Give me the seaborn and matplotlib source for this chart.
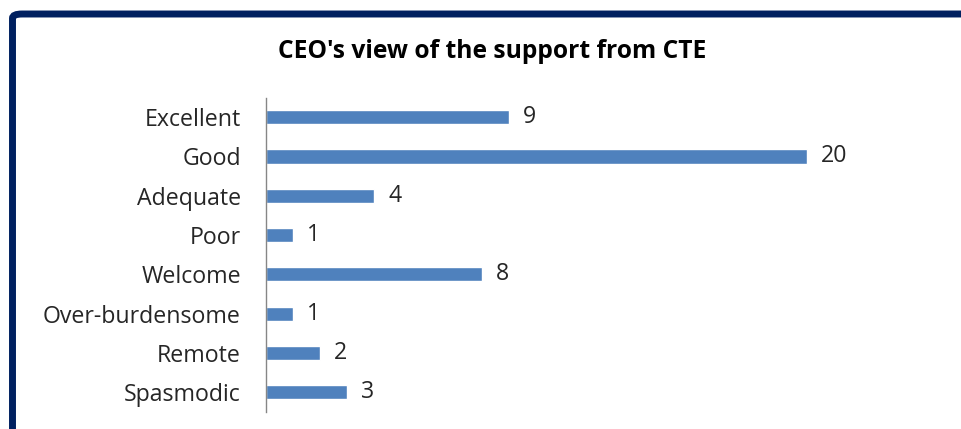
import matplotlib
matplotlib.use("Agg")
import matplotlib.pyplot as plt
from matplotlib.patches import FancyBboxPatch
import seaborn as sns
import pandas as pd

categories = ["Excellent", "Good", "Adequate", "Poor", "Welcome",
              "Over-burdensome", "Remote", "Spasmodic"]
counts = [9, 20, 4, 1, 8, 1, 2, 3]
title = "CEO's view of the support from CTE"

sns.set_theme(style="white")
plt.rcParams["font.family"] = ["Open Sans", "DejaVu Sans"]

W, H = 961, 429
fig = plt.figure(figsize=(W / 100, H / 100), dpi=100)
fig.patch.set_facecolor("white")

# navy frame (top and left edges visible, rounded corner)
frame = FancyBboxPatch((12.5 / W, -0.2), 1.3, 1 - 14 / H + 0.2,
                       boxstyle="round,pad=0,rounding_size=0.01",
                       transform=fig.transFigure, facecolor="none",
                       edgecolor="#002060", linewidth=5.0, clip_on=False)
fig.patches.append(frame)

ax = fig.add_axes([266 / W, 1 - 412 / H, 24 * 27.05 / W, (412 - 97.5) / H])
df = pd.DataFrame({"category": categories, "count": counts})
sns.barplot(data=df, y="category", x="count", orient="h", color="#4F81BD",
            width=0.36, saturation=1, ax=ax)
ax.set_xlim(0, 24)
ax.set_xlabel("")
ax.set_ylabel("")
ax.set_xticks([])
for s in ["top", "right", "bottom"]:
    ax.spines[s].set_visible(False)
ax.spines["left"].set_color("#868686")
ax.spines["left"].set_linewidth(1.0)
ax.tick_params(axis="y", length=0, pad=18, labelsize=16.7, labelcolor="#262626")
ax.set_facecolor("none")

for cont in ax.containers:
    ax.bar_label(cont, labels=[str(v) for v in counts], padding=10,
                 fontsize=16.7, color="#262626")

fig.text(492 / W, 1 - 52 / H, title, ha="center", va="center",
         fontsize=17.7, fontweight="bold", color="black")

fig.savefig("out.png", dpi=100)
